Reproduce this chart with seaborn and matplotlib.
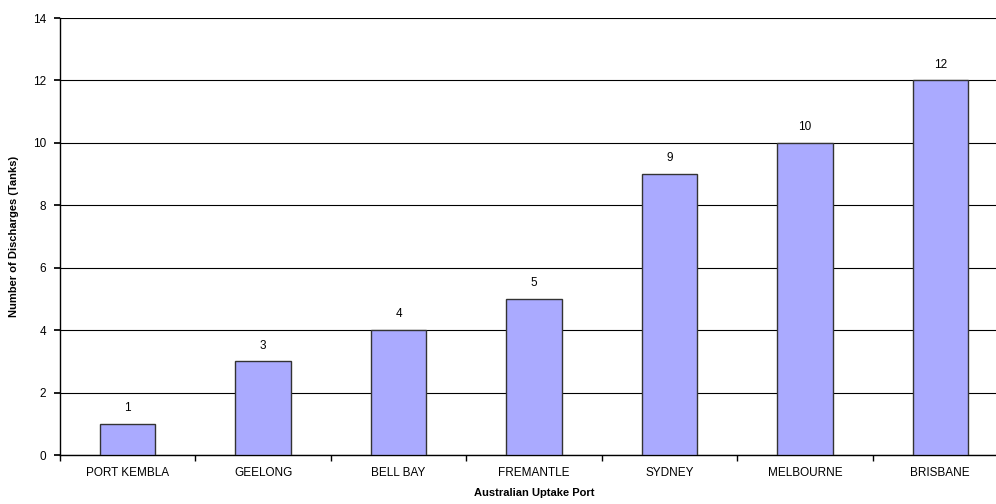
import matplotlib
matplotlib.use("Agg")
import matplotlib.pyplot as plt
import seaborn as sns
import pandas as pd

ports = ["PORT KEMBLA", "GEELONG", "BELL BAY", "FREMANTLE", "SYDNEY", "MELBOURNE", "BRISBANE"]
discharges = [1, 3, 4, 5, 9, 10, 12]
y_ticks = [0, 2, 4, 6, 8, 10, 12, 14]

sns.set_theme(style="white")
plt.rcParams['font.family'] = ['Liberation Sans', 'DejaVu Sans']
plt.rcParams['text.color'] = 'black'
plt.rcParams['axes.labelcolor'] = 'black'
plt.rcParams['xtick.color'] = 'black'
plt.rcParams['ytick.color'] = 'black'

df = pd.DataFrame({"port": ports, "n": discharges})

fig = plt.figure(figsize=(9.96, 5.04), dpi=100)
ax = fig.add_axes([60/996, 49/504, 948/996, 437/504])
sns.barplot(data=df, x="port", y="n", ax=ax, color="#AAAAFF", saturation=1,
            width=0.41, edgecolor="#333333", linewidth=1, zorder=3)
ax.set_ylim(0, 14)
ax.set_xlim(-0.5, len(ports) - 0.5)
ax.set_yticks(y_ticks)
ax.yaxis.grid(True, color="#000000", linewidth=0.8, zorder=0)
ax.set_axisbelow(True)
for s in ["top", "right"]:
    ax.spines[s].set_visible(False)
ax.spines["left"].set_color("#000000")
ax.spines["bottom"].set_color("#000000")
ax.spines["left"].set_linewidth(1)
ax.spines["bottom"].set_linewidth(1)
ax.set_xticks([i - 0.5 for i in range(len(ports) + 1)], minor=True)
ax.set_xticks(range(len(ports)))
ax.set_xticklabels(ports, fontsize=8.5)
ax.tick_params(axis="x", which="major", length=0, pad=9)
ax.tick_params(axis="x", which="minor", length=4, color="#000000", direction="out", bottom=True)
ax.tick_params(axis="y", length=4, color="#000000", direction="out", left=True, labelsize=8.5, pad=6)
for i, v in enumerate(discharges):
    ax.annotate(str(v), (i, v), xytext=(0, 7), textcoords="offset points",
                ha="center", va="bottom", fontsize=8.5, color="black")
ax.set_xlabel("Australian Uptake Port", fontsize=8, fontweight="bold", labelpad=6)
ax.set_ylabel("Number of Discharges (Tanks)", fontsize=8, fontweight="bold", labelpad=10)
fig.savefig("out.png", dpi=100)
